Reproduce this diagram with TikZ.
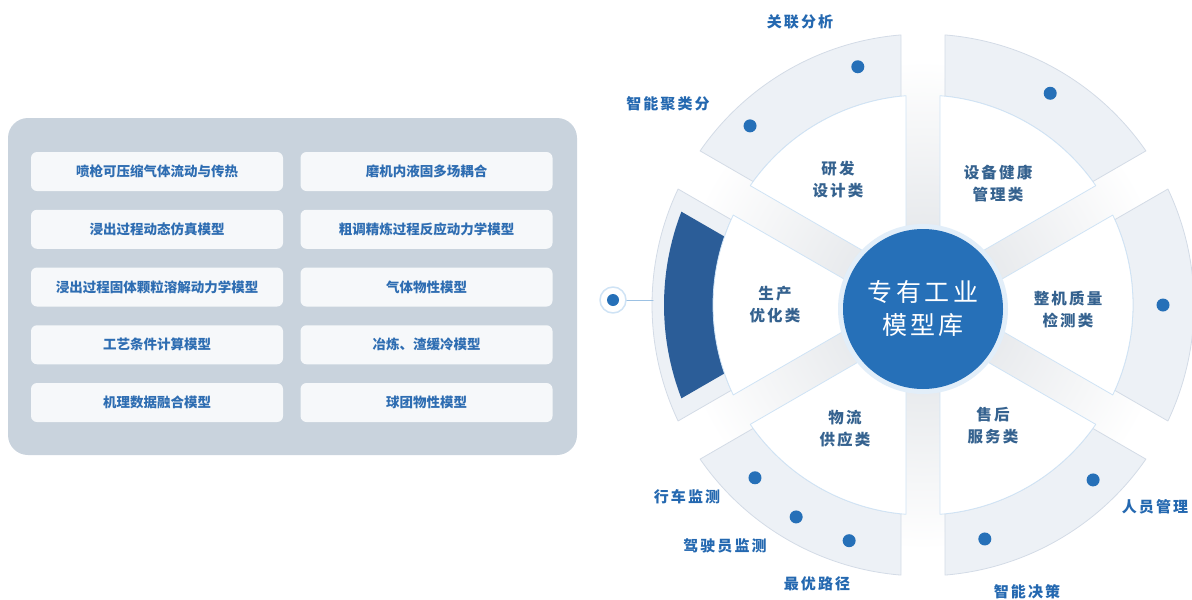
\documentclass[tikz,border=0pt]{standalone}
\usepackage{fontspec}
\newfontfamily\cjk{Noto Sans CJK SC}
\newfontfamily\cjkwide{Noto Sans CJK SC}[LetterSpace=14]
\definecolor{panelgrey}{HTML}{C9D3DD}
\definecolor{boxwhite}{HTML}{F6F8FA}
\definecolor{boxblue}{HTML}{2E6DB2}
\definecolor{lblblue}{HTML}{2468B0}
\definecolor{secblue}{HTML}{35628F}
\definecolor{hubblue}{HTML}{2670B8}
\definecolor{bandblue}{HTML}{2B5D98}
\definecolor{ringgrey}{HTML}{EDF1F6}
\definecolor{ringedge}{HTML}{D3DBE6}
\definecolor{secedge}{HTML}{CFE3F5}
\begin{document}
\begin{tikzpicture}[x=1pt,y=1pt,line join=round,line cap=round,
  modelbox/.style={fill=boxwhite,rounded corners=6pt,minimum width=252pt,minimum height=39pt,
    text=boxblue,font=\cjk\bfseries\fontsize{13.5}{16}\selectfont},
  outlbl/.style={text=lblblue,font=\cjkwide\bfseries\fontsize{15}{18}\selectfont},
  seclbl/.style={text=secblue,align=center,font=\cjkwide\bfseries\fontsize{15.5}{22}\selectfont},
  ringseg/.style={fill=ringgrey,draw=ringedge,line width=0.8pt},
  sector/.style={fill=white,draw=secedge,line width=0.8pt},
  dotblue/.style={fill=hubblue}]
\useasboundingbox (0,0) rectangle (1192,-600);
% model list
\fill[panelgrey,rounded corners=20pt] (8,-118) rectangle (577,-455);
\foreach \ltxt/\rtxt [count=\i] in {喷枪可压缩气体流动与传热/磨机内液固多场耦合,
    浸出过程动态仿真模型/粗调精炼过程反应动力学模型,
    浸出过程固体颗粒溶解动力学模型/气体物性模型,
    工艺条件计算模型/冶炼、渣缓冷模型,
    机理数据融合模型/球团物性模型}{
  \node[modelbox] (ml\i) at (157,{-171.5-57.75*(\i-1)}) {\ltxt};
  \node[modelbox] (mr\i) at (426.5,{-171.5-57.75*(\i-1)}) {\rtxt};
}
% wheel
\begin{scope}[shift={(923,-305)}]
  \shade[inner color=ringgrey!85!gray,outer color=white] (0,0) circle (245);
  \foreach \t in {60,0,-60,-120,180,120}
    \draw[ringseg] (\t-30+6.01:210) -- (\t-30+4.66:271)
      arc[start angle=\t-30+4.66,end angle=\t+30-4.66,radius=271]
      -- (\t+30-6.01:210) arc[start angle=\t+30-6.01,end angle=\t-30+6.01,radius=210] -- cycle;
  \fill[bandblue] (161.25:205) -- (158.88:259) arc[start angle=158.88,end angle=201.12,radius=259]
    -- (198.75:205) arc[start angle=198.75,end angle=161.25,radius=205] -- cycle;
  \foreach \t in {60,0,-60,-120,180,120}
    \draw[sector] (\t:34) -- (\t-30+4.64:210)
      arc[start angle=\t-30+4.64,end angle=\t+30-4.64,radius=210] -- cycle;
  \foreach \a/\r in {105.3/247,134/249,59/247,0/240,-45.8/244,-75.2/242,225.8/241,239.1/247,252.6/247}
    \fill[dotblue] (\a:\r) circle (6.5);
  \fill[secedge!60!white] (0,-4) circle (85);
  \node[circle,fill=hubblue,minimum size=160pt,text=white,align=center,
    font=\cjkwide\fontsize{25}{33}\selectfont] (hub) at (0,-4) {专有工业\\模型库};
\end{scope}
% sector labels
\node[seclbl] (rnd) at (838,-180) {研发\\设计类};
\node[seclbl] (eqp) at (998,-184) {设备健康\\管理类};
\node[seclbl] (prd) at (775,-305) {生产\\优化类};
\node[seclbl] (qlt) at (1068,-310) {整机质量\\检测类};
\node[seclbl] (lgs) at (845,-429) {物流\\供应类};
\node[seclbl] (svc) at (993,-426) {售后\\服务类};
% outer labels
\node[outlbl] (corr) at (800,-22) {关联分析};
\node[outlbl] (clus) at (668,-104) {智能聚类分};
\node[outlbl] (staff) at (1155,-507) {人员管理};
\node[outlbl] (dec) at (1027,-592) {智能决策};
\node[outlbl] (drive) at (687,-497) {行车监测};
\node[outlbl] (driver) at (725,-546) {驾驶员监测};
\node[outlbl] (route) at (817,-584) {最优路径};
% selected marker
\coordinate (bandedge) at (653,-300);
\node[circle,fill=white,draw=secedge,line width=1.5pt,minimum size=26pt,inner sep=0pt] (pick) at (613,-300) {};
\draw[secedge!70!hubblue,line width=1pt] (pick) -- (bandedge);
\fill[hubblue] (pick.center) circle (6);
\end{tikzpicture}
\end{document}
